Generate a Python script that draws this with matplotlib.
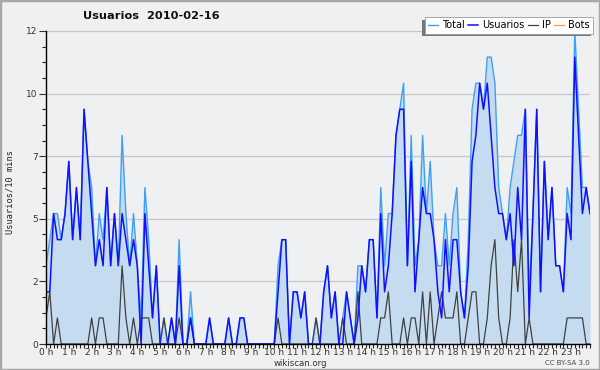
import matplotlib
matplotlib.use("Agg")
import matplotlib.pyplot as plt
from matplotlib.patches import Rectangle

# 10-minute slots over the day (144 points)
total = [3, 4, 5, 5, 4, 5, 7, 4, 6, 4, 9, 7,
         6, 3, 5, 4, 6, 3, 5, 3, 8, 5, 3, 5,
         3, 1, 6, 4, 1, 3, 0, 1, 0, 1, 0, 4,
         0, 0, 2, 0, 0, 0, 0, 1, 0, 0, 0, 0,
         1, 0, 0, 1, 1, 0, 0, 0, 0, 0, 0, 0,
         0, 3, 4, 4, 0, 2, 2, 1, 2, 0, 0, 1,
         0, 2, 3, 1, 2, 0, 1, 2, 1, 0, 3, 3,
         2, 4, 4, 1, 6, 3, 5, 5, 8, 9, 10, 3,
         8, 3, 4, 8, 5, 7, 4, 3, 3, 5, 3, 5,
         6, 2, 1, 4, 9, 10, 10, 9, 11, 11, 10, 6,
         5, 4, 6, 7, 8, 8, 9, 2, 5, 9, 2, 7,
         4, 6, 3, 3, 2, 6, 5, 12, 9, 6, 6, 5]

usuarios = [2, 2, 5, 4, 4, 5, 7, 4, 6, 4, 9, 7,
            5, 3, 4, 3, 6, 3, 5, 3, 5, 4, 3, 4,
            3, 0, 5, 3, 1, 3, 0, 0, 0, 1, 0, 3,
            0, 0, 1, 0, 0, 0, 0, 1, 0, 0, 0, 0,
            1, 0, 0, 1, 1, 0, 0, 0, 0, 0, 0, 0,
            0, 2, 4, 4, 0, 2, 2, 1, 2, 0, 0, 0,
            0, 2, 3, 1, 2, 0, 0, 2, 1, 0, 1, 3,
            2, 4, 4, 1, 5, 2, 3, 5, 8, 9, 9, 3,
            7, 2, 4, 6, 5, 5, 4, 2, 1, 4, 2, 4,
            4, 2, 1, 3, 7, 8, 10, 9, 10, 8, 6, 5,
            5, 4, 5, 3, 6, 4, 9, 1, 5, 9, 2, 7,
            4, 6, 3, 3, 2, 5, 4, 11, 8, 5, 6, 5]

ip = [1, 2, 0, 1, 0, 0, 0, 0, 0, 0, 0, 0,
      1, 0, 1, 1, 0, 0, 0, 0, 3, 1, 0, 1,
      0, 1, 1, 1, 0, 0, 0, 1, 0, 0, 0, 1,
      0, 0, 1, 0, 0, 0, 0, 0, 0, 0, 0, 0,
      0, 0, 0, 0, 0, 0, 0, 0, 0, 0, 0, 0,
      0, 1, 0, 0, 0, 0, 0, 0, 0, 0, 0, 1,
      0, 0, 0, 0, 0, 0, 1, 0, 0, 0, 2, 0,
      0, 0, 0, 0, 1, 1, 2, 0, 0, 0, 1, 0,
      1, 1, 0, 2, 0, 2, 0, 1, 2, 1, 1, 1,
      2, 0, 0, 1, 2, 2, 0, 0, 1, 3, 4, 1,
      0, 0, 1, 4, 2, 4, 0, 1, 0, 0, 0, 0,
      0, 0, 0, 0, 0, 1, 1, 1, 1, 1, 0, 0]

bots = [0, 0, 0, 0, 0, 0, 0, 0, 0, 0, 0, 0,
        0, 0, 0, 0, 0, 0, 0, 0, 0, 0, 0, 0,
        0, 0, 0, 0, 0, 0, 0, 0, 0, 0, 0, 0,
        0, 0, 0, 0, 0, 0, 0, 0, 0, 0, 0, 0,
        0, 0, 0, 0, 0, 0, 0, 0, 0, 0, 0, 0,
        0, 0, 0, 0, 0, 0, 0, 0, 0, 0, 0, 0,
        0, 0, 0, 0, 0, 0, 0, 0, 0, 0, 0, 0,
        0, 0, 0, 0, 0, 0, 0, 0, 0, 0, 0, 0,
        0, 0, 0, 0, 0, 0, 0, 0, 0, 0, 0, 0,
        0, 0, 0, 0, 0, 0, 0, 0, 0, 0, 0, 0,
        0, 0, 0, 0, 0, 0, 0, 0, 0, 0, 0, 0,
        0, 0, 0, 0, 0, 0, 0, 0, 0, 0, 0, 0]

hour_labels = ["%d h" % h for h in range(24)]
ytick_values = [0, 2.4, 4.8, 7.2, 9.6, 12]
ytick_labels = ["0", "2", "5", "7", "10", "12"]

x = list(range(len(total)))

fig = plt.figure(figsize=(6, 3.7), dpi=100, facecolor="#f0f0f0")
ax = fig.add_axes([46 / 600, 1 - 344 / 370, 544 / 600, 313 / 370])
ax.set_facecolor("#eff0f2")

# filled total area + lines
ax.fill_between(x, total, 0, color="#c5dcf0", lw=0, zorder=1)
ax.plot(x, total, color="#3ea0f5", lw=1.0, label="Total", zorder=3)
ax.plot(x, usuarios, color="#1010ff", lw=1.1, label="Usuarios", zorder=5)
ax.plot(x, ip, color="#404040", lw=0.9, label="IP", zorder=4)
ax.plot(x, bots, color="#ffa010", lw=0.9, label="Bots", zorder=2)

ax.set_xlim(0, len(total) - 1)
ax.set_ylim(0, 12)

ax.set_yticks(ytick_values)
ax.set_yticklabels(ytick_labels)
ax.set_yticks([i * 0.6 for i in range(21)], minor=True)
ax.set_xticks([h * 6 for h in range(24)])
ax.set_xticklabels(hour_labels)
ax.set_xticks(x, minor=True)

ax.tick_params(axis="both", which="major", labelsize=6.5, colors="#333333",
               length=5, width=0.8, pad=1)
ax.tick_params(axis="both", which="minor", length=3, width=0.8, color="#222222")
ax.tick_params(axis="x", which="major", length=3, pad=0)

ax.grid(axis="y", color="#c8c8c8", lw=0.9, zorder=0)
ax.set_axisbelow(True)
for s in ["top", "right"]:
    ax.spines[s].set_visible(False)
for s in ["left", "bottom"]:
    ax.spines[s].set_color("black")
    ax.spines[s].set_linewidth(1.0)
    ax.spines[s].set_zorder(6)

fig.text(151 / 600, 1 - 16 / 370, "Usuarios  2010-02-16", ha="center",
         va="center", fontsize=8.2, fontweight="bold", color="#111111")
fig.text(10 / 600, 0.48, "Usuarios/10 mins", rotation=90, ha="center",
         va="center", fontsize=6.2, family="DejaVu Sans Mono", color="#222222")
fig.text(300 / 600, 1 - 363 / 370, "wikiscan.org", ha="center", va="center",
         fontsize=6.2, color="#333333")
fig.text(590 / 600, 1 - 363 / 370, "CC BY-SA 3.0", ha="right", va="center",
         fontsize=5, color="#444444")

leg = ax.legend(loc="upper right", bbox_to_anchor=(593 / 600, 1 - 17 / 370),
                bbox_transform=fig.transFigure, ncol=4, fontsize=7,
                frameon=True, fancybox=False, borderaxespad=0, borderpad=0.35,
                handlelength=1.0, handletextpad=0.4, columnspacing=0.4)
leg.get_frame().set_edgecolor("#999999")
leg.get_frame().set_linewidth(0.6)
leg.get_frame().set_facecolor("white")
leg.get_frame().set_alpha(1)
leg.set_zorder(10)

# grey shadow offset to the lower left of the legend
fig.canvas.draw()
bb = leg.get_window_extent().transformed(fig.transFigure.inverted())
shadow = Rectangle((bb.x0 - 2.5 / 600, bb.y0 - 2.5 / 370), bb.width, bb.height,
                   transform=fig.transFigure, facecolor="#777777",
                   edgecolor="none", zorder=9, clip_on=False)
ax.add_artist(shadow)

# outer frame
fig.patches.append(Rectangle((0, 0), 1, 1, transform=fig.transFigure, fill=False,
                             edgecolor="#a8a8a8", lw=2.5))

fig.savefig("out.png", dpi=100, facecolor=fig.get_facecolor())
